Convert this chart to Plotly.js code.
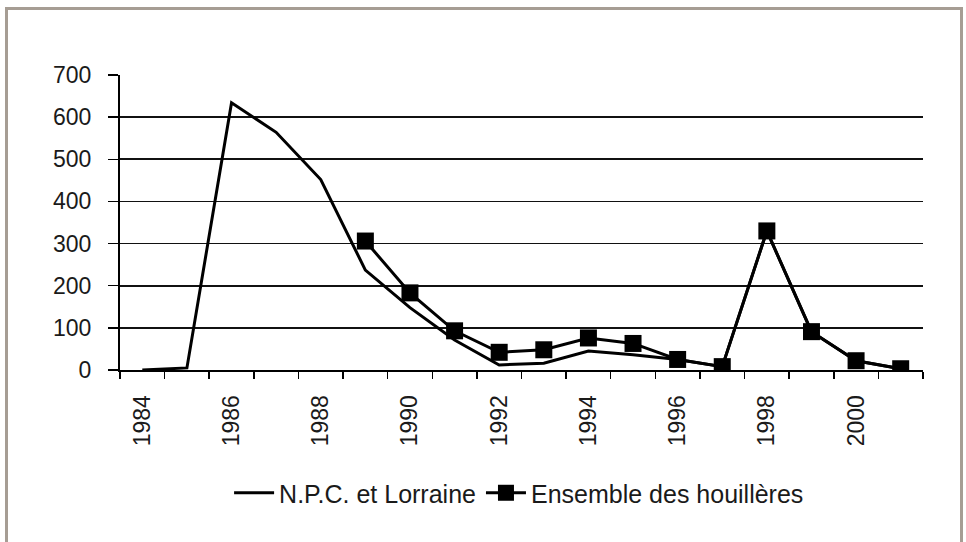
<!DOCTYPE html>
<html>
<head>
<meta charset="utf-8">
<script src="https://cdn.plot.ly/plotly-3.0.1.min.js"></script>
<style>
  html, body { margin: 0; padding: 0; background: #fff; }
  #wrap { position: relative; width: 966px; height: 542px; overflow: hidden; }
  #chart { position: absolute; left: 0; top: 0; width: 966px; height: 542px; }
  #frame { position: absolute; left: 5px; top: 7px; width: 952px; height: 560px;
           border: 3px solid #a69d94; pointer-events: none; }
</style>
</head>
<body>
<div id="wrap">
  <div id="chart"></div>
  <div id="frame"></div>
</div>
<script>
const years = [1984,1985,1986,1987,1988,1989,1990,1991,1992,1993,1994,1995,1996,1997,1998,1999,2000,2001];
const npcLorraine = [0, 5, 634, 564, 452, 237, 148, 71, 12, 16, 45, 36, 25, 8, 330, 91, 22, 3];
const ensembleHouilleres = [null, null, null, null, null, 306, 183, 93, 42, 48, 76, 63, 25, 8, 330, 91, 22, 3];
const tickYears = [1984,1986,1988,1990,1992,1994,1996,1998,2000];
const seriesNames = ["N.P.C. et Lorraine", "Ensemble des houillères"];

const font = "Liberation Sans, Arial, sans-serif";

const traces = [
  {
    x: years, y: npcLorraine, name: seriesNames[0],
    type: "scatter", mode: "lines",
    line: { color: "#000", width: 3 },
    connectgaps: false
  },
  {
    x: years, y: ensembleHouilleres, name: seriesNames[1],
    type: "scatter", mode: "lines+markers",
    line: { color: "#000", width: 3 },
    marker: { symbol: "square", size: 17, color: "#000" },
    connectgaps: false
  }
];

const layout = {
  width: 966, height: 542,
  margin: { l: 120, r: 43, t: 75, b: 172 },
  paper_bgcolor: "#fff", plot_bgcolor: "#fff",
  font: { family: font, color: "#1a1a1a", size: 22 },
  showlegend: true,
  legend: {
    orientation: "h", x: 0.497, xanchor: "center", y: -0.417, yanchor: "middle",
    font: { family: font, size: 25, color: "#1a1a1a" },
    itemwidth: 40, bgcolor: "rgba(0,0,0,0)"
  },
  xaxis: {
    type: "linear", range: [1983.5, 2001.5],
    tickvals: tickYears, ticktext: tickYears.map(String),
    tickangle: -90, ticks: "",
    ticklabelstandoff: 14,
    tickfont: { family: font, size: 23, color: "#1a1a1a" },
    showgrid: false, zeroline: false,
    showline: true, linecolor: "#000", linewidth: 2,
    minor: { ticks: "outside", ticklen: 7, tickwidth: 1.5, tickcolor: "#000",
             tick0: 1983.5, dtick: 1, showgrid: false }
  },
  yaxis: {
    range: [0, 700], dtick: 100, tick0: 0,
    ticks: "outside", ticklen: 10, tickwidth: 1.5, tickcolor: "#000",
    ticklabelstandoff: 12,
    tickfont: { family: font, size: 23, color: "#1a1a1a" },
    showgrid: true, gridcolor: "#111", gridwidth: 1.6,
    zeroline: false,
    showline: true, linecolor: "#000", linewidth: 2
  }
};

Plotly.newPlot("chart", traces, layout, { staticPlot: true, displayModeBar: false });
</script>
</body>
</html>
